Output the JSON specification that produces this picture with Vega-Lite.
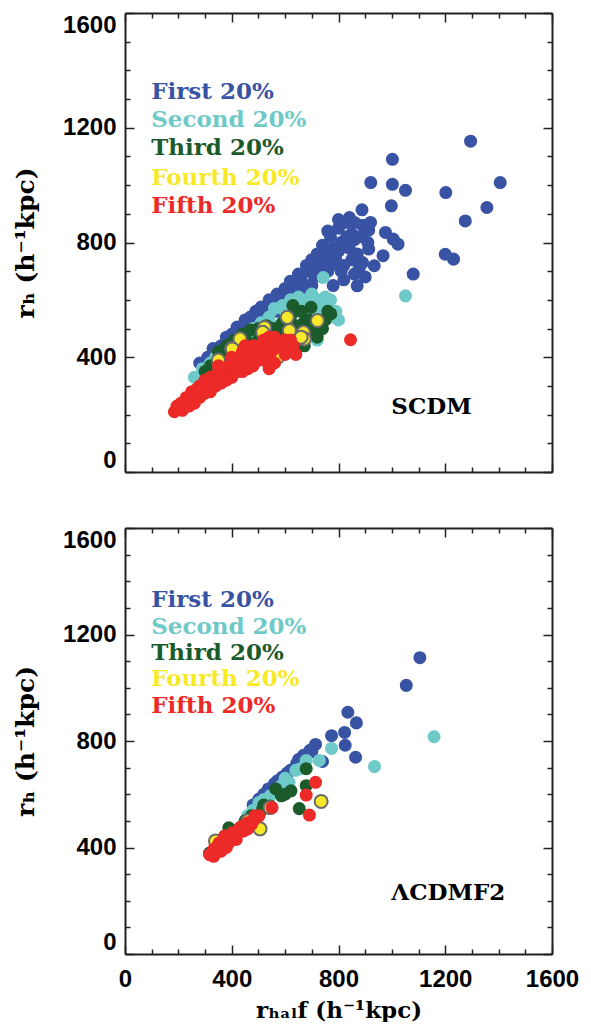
{
  "$schema": "https://vega.github.io/schema/vega-lite/v6.json",
  "background": "white",
  "padding": {"left": 13, "top": 12, "right": 5, "bottom": 0},
  "config": {"view": {"stroke": null}, "font": "Liberation Sans"},
  "spacing": 54,
  "datasets": {
    "top": [
      {"g":"First","x":280,"y":380},{"g":"First","x":310,"y":400},{"g":"First","x":330,"y":430},{"g":"First","x":360,"y":440},{"g":"First","x":380,"y":470},{"g":"First","x":400,"y":480},{"g":"First","x":420,"y":505},{"g":"First","x":440,"y":500},{"g":"First","x":450,"y":530},{"g":"First","x":470,"y":540},{"g":"First","x":490,"y":560},{"g":"First","x":510,"y":575},{"g":"First","x":520,"y":555},{"g":"First","x":540,"y":600},{"g":"First","x":550,"y":580},{"g":"First","x":570,"y":620},{"g":"First","x":580,"y":600},{"g":"First","x":600,"y":640},{"g":"First","x":610,"y":620},{"g":"First","x":620,"y":665},{"g":"First","x":640,"y":650},{"g":"First","x":650,"y":690},{"g":"First","x":660,"y":670},{"g":"First","x":680,"y":720},{"g":"First","x":690,"y":700},{"g":"First","x":700,"y":740},{"g":"First","x":710,"y":680},{"g":"First","x":720,"y":760},{"g":"First","x":730,"y":720},{"g":"First","x":740,"y":790},{"g":"First","x":750,"y":760},{"g":"First","x":760,"y":700},{"g":"First","x":770,"y":820},{"g":"First","x":780,"y":780},{"g":"First","x":790,"y":740},{"g":"First","x":800,"y":850},{"g":"First","x":810,"y":800},{"g":"First","x":820,"y":720},{"g":"First","x":830,"y":870},{"g":"First","x":840,"y":780},{"g":"First","x":850,"y":830},{"g":"First","x":860,"y":690},{"g":"First","x":870,"y":760},{"g":"First","x":880,"y":820},{"g":"First","x":890,"y":730},{"g":"First","x":900,"y":680},{"g":"First","x":660,"y":620},{"g":"First","x":700,"y":650},{"g":"First","x":740,"y":680},{"g":"First","x":780,"y":650},{"g":"First","x":820,"y":670},{"g":"First","x":760,"y":840},{"g":"First","x":800,"y":880},{"g":"First","x":860,"y":870},{"g":"First","x":600,"y":600},
      {"g":"First","x":300,"y":370},{"g":"First","x":350,"y":410},{"g":"First","x":390,"y":450},{"g":"First","x":430,"y":470},{"g":"First","x":460,"y":500},{"g":"First","x":500,"y":530},{"g":"First","x":530,"y":540},{"g":"First","x":560,"y":560},{"g":"First","x":590,"y":570},{"g":"First","x":620,"y":590},{"g":"First","x":650,"y":640},{"g":"First","x":680,"y":650},{"g":"First","x":710,"y":710},{"g":"First","x":740,"y":740},{"g":"First","x":770,"y":760},{"g":"First","x":800,"y":770},{"g":"First","x":830,"y":820},{"g":"First","x":860,"y":810},{"g":"First","x":890,"y":860},{"g":"First","x":910,"y":800},{"g":"First","x":920,"y":870},{"g":"First","x":850,"y":740},{"g":"First","x":810,"y":700},{"g":"First","x":770,"y":720},{"g":"First","x":730,"y":690},{"g":"First","x":690,"y":620},{"g":"First","x":630,"y":610},{"g":"First","x":570,"y":560},
      {"g":"First","x":1295,"y":1153},{"g":"First","x":1002,"y":1090},{"g":"First","x":921,"y":1009},{"g":"First","x":1002,"y":1003},{"g":"First","x":1051,"y":982},{"g":"First","x":1406,"y":1009},{"g":"First","x":1202,"y":974},{"g":"First","x":998,"y":928},{"g":"First","x":1356,"y":922},{"g":"First","x":1275,"y":875},{"g":"First","x":888,"y":914},{"g":"First","x":841,"y":887},{"g":"First","x":913,"y":843},{"g":"First","x":976,"y":835},{"g":"First","x":1005,"y":812},{"g":"First","x":1023,"y":794},{"g":"First","x":1200,"y":759},{"g":"First","x":1231,"y":742},{"g":"First","x":1080,"y":690},{"g":"First","x":913,"y":777},{"g":"First","x":967,"y":754},{"g":"First","x":934,"y":719},{"g":"First","x":870,"y":649},{"g":"First","x":877,"y":707},
      {"g":"Second","x":260,"y":330},{"g":"Second","x":290,"y":360},{"g":"Second","x":320,"y":380},{"g":"Second","x":340,"y":400},{"g":"Second","x":370,"y":410},{"g":"Second","x":400,"y":440},{"g":"Second","x":420,"y":450},{"g":"Second","x":450,"y":470},{"g":"Second","x":480,"y":500},{"g":"Second","x":510,"y":520},{"g":"Second","x":540,"y":540},{"g":"Second","x":560,"y":570},{"g":"Second","x":590,"y":580},{"g":"Second","x":620,"y":600},{"g":"Second","x":650,"y":610},{"g":"Second","x":680,"y":600},{"g":"Second","x":700,"y":620},{"g":"Second","x":720,"y":600},{"g":"Second","x":740,"y":580},{"g":"Second","x":760,"y":560},{"g":"Second","x":780,"y":540},{"g":"Second","x":800,"y":530},{"g":"Second","x":770,"y":600},{"g":"Second","x":730,"y":550},{"g":"Second","x":690,"y":560},{"g":"Second","x":650,"y":560},{"g":"Second","x":610,"y":540},{"g":"Second","x":570,"y":510},{"g":"Second","x":530,"y":490},{"g":"Second","x":743,"y":678},{"g":"Second","x":1051,"y":614},{"g":"Second","x":660,"y":590},{"g":"Second","x":700,"y":480},{"g":"Second","x":720,"y":460},
      {"g":"Second","x":300,"y":340},{"g":"Second","x":350,"y":380},{"g":"Second","x":390,"y":420},{"g":"Second","x":440,"y":450},{"g":"Second","x":490,"y":480},{"g":"Second","x":600,"y":560},{"g":"Second","x":640,"y":580},{"g":"Second","x":710,"y":590},{"g":"Second","x":750,"y":610},{"g":"Second","x":790,"y":560},
      {"g":"Third","x":300,"y":350},{"g":"Third","x":320,"y":370},{"g":"Third","x":350,"y":420},{"g":"Third","x":380,"y":440},{"g":"Third","x":410,"y":460},{"g":"Third","x":440,"y":480},{"g":"Third","x":470,"y":495},{"g":"Third","x":500,"y":500},{"g":"Third","x":530,"y":510},{"g":"Third","x":560,"y":500},{"g":"Third","x":590,"y":520},{"g":"Third","x":620,"y":540},{"g":"Third","x":629,"y":580},{"g":"Third","x":697,"y":574},{"g":"Third","x":771,"y":551},{"g":"Third","x":672,"y":522},{"g":"Third","x":700,"y":500},{"g":"Third","x":640,"y":490},{"g":"Third","x":610,"y":470},{"g":"Third","x":672,"y":440},{"g":"Third","x":720,"y":470},{"g":"Third","x":740,"y":500},{"g":"Third","x":660,"y":560},{"g":"Third","x":580,"y":470},{"g":"Third","x":540,"y":460},{"g":"Third","x":500,"y":460},{"g":"Third","x":460,"y":450},{"g":"Third","x":420,"y":440},
      {"g":"Third","x":360,"y":400},{"g":"Third","x":400,"y":450},{"g":"Third","x":450,"y":470},{"g":"Third","x":520,"y":480},{"g":"Third","x":600,"y":500},{"g":"Third","x":650,"y":510},{"g":"Third","x":690,"y":530},{"g":"Third","x":750,"y":530},{"g":"Third","x":760,"y":560},
      {"g":"Fourth","x":523,"y":504},{"g":"Fourth","x":608,"y":539},{"g":"Fourth","x":616,"y":493},{"g":"Fourth","x":669,"y":487},{"g":"Fourth","x":672,"y":464},{"g":"Fourth","x":721,"y":528},{"g":"Fourth","x":572,"y":400},{"g":"Fourth","x":500,"y":410},{"g":"Fourth","x":400,"y":430},{"g":"Fourth","x":350,"y":390},{"g":"Fourth","x":620,"y":440},{"g":"Fourth","x":550,"y":450},{"g":"Fourth","x":450,"y":420},{"g":"Fourth","x":660,"y":470},{"g":"Fourth","x":431,"y":464},{"g":"Fourth","x":402,"y":429},{"g":"Fourth","x":516,"y":487},
      {"g":"Fifth","x":185,"y":210},{"g":"Fifth","x":200,"y":220},{"g":"Fifth","x":210,"y":240},{"g":"Fifth","x":220,"y":230},{"g":"Fifth","x":230,"y":260},{"g":"Fifth","x":240,"y":250},{"g":"Fifth","x":250,"y":270},{"g":"Fifth","x":260,"y":260},{"g":"Fifth","x":270,"y":290},{"g":"Fifth","x":280,"y":280},{"g":"Fifth","x":290,"y":300},{"g":"Fifth","x":300,"y":290},{"g":"Fifth","x":310,"y":320},{"g":"Fifth","x":320,"y":300},{"g":"Fifth","x":330,"y":330},{"g":"Fifth","x":340,"y":320},{"g":"Fifth","x":350,"y":350},{"g":"Fifth","x":360,"y":330},{"g":"Fifth","x":370,"y":360},{"g":"Fifth","x":380,"y":340},{"g":"Fifth","x":390,"y":370},{"g":"Fifth","x":400,"y":360},{"g":"Fifth","x":410,"y":390},{"g":"Fifth","x":420,"y":370},{"g":"Fifth","x":430,"y":400},{"g":"Fifth","x":440,"y":380},{"g":"Fifth","x":450,"y":410},{"g":"Fifth","x":460,"y":390},{"g":"Fifth","x":470,"y":420},{"g":"Fifth","x":480,"y":400},{"g":"Fifth","x":490,"y":430},{"g":"Fifth","x":500,"y":410},{"g":"Fifth","x":510,"y":440},{"g":"Fifth","x":520,"y":420},{"g":"Fifth","x":530,"y":445},{"g":"Fifth","x":540,"y":430},{"g":"Fifth","x":550,"y":450},{"g":"Fifth","x":560,"y":430},{"g":"Fifth","x":570,"y":455},{"g":"Fifth","x":580,"y":440},{"g":"Fifth","x":600,"y":430},{"g":"Fifth","x":620,"y":420},{"g":"Fifth","x":640,"y":410},{"g":"Fifth","x":560,"y":380},{"g":"Fifth","x":540,"y":360},{"g":"Fifth","x":520,"y":390},{"g":"Fifth","x":480,"y":370},{"g":"Fifth","x":440,"y":350},{"g":"Fifth","x":400,"y":330},{"g":"Fifth","x":360,"y":310},{"g":"Fifth","x":320,"y":280},{"g":"Fifth","x":280,"y":260},{"g":"Fifth","x":240,"y":230},{"g":"Fifth","x":600,"y":460},{"g":"Fifth","x":620,"y":460},{"g":"Fifth","x":450,"y":440},{"g":"Fifth","x":400,"y":400},{"g":"Fifth","x":350,"y":370},{"g":"Fifth","x":300,"y":320},{"g":"Fifth","x":845,"y":461},
      {"g":"Fifth","x":195,"y":230},{"g":"Fifth","x":215,"y":215},{"g":"Fifth","x":235,"y":240},{"g":"Fifth","x":255,"y":250},{"g":"Fifth","x":265,"y":275},{"g":"Fifth","x":285,"y":270},{"g":"Fifth","x":305,"y":305},{"g":"Fifth","x":325,"y":315},{"g":"Fifth","x":345,"y":335},{"g":"Fifth","x":365,"y":345},{"g":"Fifth","x":385,"y":355},{"g":"Fifth","x":405,"y":375},{"g":"Fifth","x":425,"y":385},{"g":"Fifth","x":445,"y":395},{"g":"Fifth","x":465,"y":405},{"g":"Fifth","x":485,"y":415},{"g":"Fifth","x":505,"y":425},{"g":"Fifth","x":525,"y":405},{"g":"Fifth","x":545,"y":415},{"g":"Fifth","x":565,"y":445},{"g":"Fifth","x":585,"y":455},{"g":"Fifth","x":600,"y":410},{"g":"Fifth","x":630,"y":440},{"g":"Fifth","x":500,"y":390},{"g":"Fifth","x":460,"y":360},{"g":"Fifth","x":420,"y":350},{"g":"Fifth","x":380,"y":320},{"g":"Fifth","x":340,"y":300},{"g":"Fifth","x":300,"y":275},{"g":"Fifth","x":260,"y":240},{"g":"Fifth","x":560,"y":470},{"g":"Fifth","x":520,"y":460},{"g":"Fifth","x":480,"y":440},{"g":"Fifth","x":440,"y":420},{"g":"Fifth","x":400,"y":390},{"g":"Fifth","x":360,"y":360},{"g":"Fifth","x":320,"y":330},{"g":"Fifth","x":280,"y":300},{"g":"Fifth","x":250,"y":280},{"g":"Fifth","x":540,"y":470}
    ],
    "bottom": [
      {"g":"First","x":1105,"y":1113},{"g":"First","x":1054,"y":1009},{"g":"First","x":835,"y":908},{"g":"First","x":867,"y":868},{"g":"First","x":774,"y":820},{"g":"First","x":823,"y":832},{"g":"First","x":825,"y":784},{"g":"First","x":864,"y":739},{"g":"First","x":740,"y":723},{"g":"First","x":714,"y":787},{"g":"First","x":693,"y":765},{"g":"First","x":669,"y":746},{"g":"First","x":643,"y":715},{"g":"First","x":608,"y":680},{"g":"First","x":572,"y":651},{"g":"First","x":537,"y":620},{"g":"First","x":502,"y":582},{"g":"First","x":700,"y":760},{"g":"First","x":650,"y":730},{"g":"First","x":620,"y":690},{"g":"First","x":590,"y":665},{"g":"First","x":560,"y":640},{"g":"First","x":520,"y":600},{"g":"First","x":480,"y":560},
      {"g":"Second","x":1158,"y":816},{"g":"Second","x":935,"y":704},{"g":"Second","x":774,"y":772},{"g":"Second","x":728,"y":727},{"g":"Second","x":679,"y":727},{"g":"Second","x":657,"y":696},{"g":"Second","x":615,"y":645},{"g":"Second","x":586,"y":632},{"g":"Second","x":544,"y":594},{"g":"Second","x":502,"y":569},{"g":"Second","x":459,"y":519},{"g":"Second","x":600,"y":660},{"g":"Second","x":640,"y":690},{"g":"Second","x":520,"y":580},{"g":"Second","x":480,"y":540},
      {"g":"Third","x":679,"y":696},{"g":"Third","x":679,"y":632},{"g":"Third","x":653,"y":546},{"g":"Third","x":565,"y":620},{"g":"Third","x":622,"y":613},{"g":"Third","x":586,"y":594},{"g":"Third","x":544,"y":556},{"g":"Third","x":516,"y":544},{"g":"Third","x":474,"y":519},{"g":"Third","x":431,"y":474},{"g":"Third","x":389,"y":474},{"g":"Third","x":317,"y":379},{"g":"Third","x":374,"y":443},{"g":"Third","x":600,"y":600},{"g":"Third","x":450,"y":500},{"g":"Third","x":410,"y":455},{"g":"Third","x":350,"y":410},{"g":"Third","x":520,"y":560},
      {"g":"Fourth","x":735,"y":573},{"g":"Fourth","x":506,"y":470},{"g":"Fourth","x":544,"y":550},{"g":"Fourth","x":339,"y":424},{"g":"Fourth","x":460,"y":500},
      {"g":"Fifth","x":714,"y":645},{"g":"Fifth","x":679,"y":597},{"g":"Fifth","x":691,"y":522},{"g":"Fifth","x":551,"y":550},{"g":"Fifth","x":487,"y":519},{"g":"Fifth","x":459,"y":493},{"g":"Fifth","x":431,"y":474},{"g":"Fifth","x":402,"y":455},{"g":"Fifth","x":374,"y":443},{"g":"Fifth","x":353,"y":417},{"g":"Fifth","x":332,"y":392},{"g":"Fifth","x":332,"y":367},{"g":"Fifth","x":360,"y":386},{"g":"Fifth","x":388,"y":417},{"g":"Fifth","x":417,"y":430},{"g":"Fifth","x":445,"y":462},{"g":"Fifth","x":474,"y":487},{"g":"Fifth","x":502,"y":519},{"g":"Fifth","x":346,"y":405},{"g":"Fifth","x":317,"y":373},{"g":"Fifth","x":380,"y":400},{"g":"Fifth","x":420,"y":450},{"g":"Fifth","x":460,"y":470},{"g":"Fifth","x":400,"y":430},
      {"g":"Fifth","x":340,"y":380},{"g":"Fifth","x":370,"y":420},{"g":"Fifth","x":410,"y":440},{"g":"Fifth","x":440,"y":480},{"g":"Fifth","x":480,"y":500},{"g":"Fifth","x":350,"y":395}
    ],
    "topText": [
      {"t":"First 20%","g":"First","x":98,"y":1324},
      {"t":"Second 20%","g":"Second","x":98,"y":1227},
      {"t":"Third 20%","g":"Third","x":98,"y":1128},
      {"t":"Fourth 20%","g":"Fourth","x":98,"y":1026},
      {"t":"Fifth 20%","g":"Fifth","x":98,"y":927},
      {"t":"SCDM","g":"Label","x":998,"y":226}
    ],
    "bottomText": [
      {"t":"First 20%","g":"First","x":98,"y":1328},
      {"t":"Second 20%","g":"Second","x":98,"y":1229},
      {"t":"Third 20%","g":"Third","x":98,"y":1132},
      {"t":"Fourth 20%","g":"Fourth","x":98,"y":1031},
      {"t":"Fifth 20%","g":"Fifth","x":98,"y":932},
      {"t":"ΛCDMF2","g":"Label","x":998,"y":228}
    ]
  },
  "vconcat": [
    {
      "width": 427,
      "height": 459,
      "resolve": {"axis": {"x": "independent", "y": "independent"}},
      "layer": [
        {
          "data": {"name": "top"},
          "mark": {"type": "point", "filled": true, "shape": "circle", "size": 170, "opacity": 1, "strokeWidth": 2},
          "encoding": {
            "x": {"field": "x", "type": "quantitative", "scale": {"domain": [0, 1600], "nice": false, "zero": false},
              "axis": {"orient": "bottom", "values": [0,100,200,300,400,500,600,700,800,900,1000,1100,1200,1300,1400,1500,1600],
                "tickSize": {"condition": {"test": "datum.value % 400 === 0", "value": -9}, "value": -5},
                "tickWidth": 1.5, "tickColor": "#222", "domainColor": "#222", "domainWidth": 2,
                "labels": false, "title": null, "grid": false}},
            "y": {"field": "y", "type": "quantitative", "scale": {"domain": [0, 1600], "nice": false, "zero": false},
              "axis": {"orient": "left", "values": [0,100,200,300,400,500,600,700,800,900,1000,1100,1200,1300,1400,1500,1600],
                "tickSize": {"condition": {"test": "datum.value % 400 === 0", "value": -9}, "value": -5},
                "tickWidth": 1.5, "tickColor": "#222", "domainColor": "#222", "domainWidth": 2,
                "format": "d", "labelExpr": "datum.value % 400 === 0 ? datum.label : ''",
                "labelFont": "Liberation Sans", "labelFontWeight": "bold", "labelFontSize": 24, "labelColor": "#000",
                "labelPadding": 18, "labelOverlap": false, "labelFlush": true, "labelFlushOffset": 0,
                "title": "rₕ (h⁻¹kpc)", "titleFont": "DejaVu Serif", "titleFontWeight": "bold", "titleFontSize": 25, "titleColor": "#000", "titlePadding": 24, "grid": false}},
            "color": {"field": "g", "type": "nominal", "legend": null,
              "scale": {"domain": ["First","Second","Third","Fourth","Fifth","Label"], "range": ["#3953a4","#6dcac8","#1b5a2b","#f7e92a","#ec2a27","#000000"]}},
            "stroke": {"condition": {"test": "datum.g === 'Fourth'", "value": "#6b6b6b"}, "value": "transparent"}
          }
        },
        {
          "data": {"name": "topText"},
          "mark": {"type": "text", "align": "left", "baseline": "middle", "font": "DejaVu Serif", "fontWeight": "bold", "fontSize": 23},
          "encoding": {
            "x": {"field": "x", "type": "quantitative", "scale": {"domain": [0, 1600], "nice": false, "zero": false},
              "axis": {"orient": "top", "values": [0,100,200,300,400,500,600,700,800,900,1000,1100,1200,1300,1400,1500,1600],
                "tickSize": {"condition": {"test": "datum.value % 400 === 0", "value": -9}, "value": -5},
                "tickWidth": 1.5, "tickColor": "#222", "domainColor": "#222", "domainWidth": 2,
                "labels": false, "title": null, "grid": false}},
            "y": {"field": "y", "type": "quantitative", "scale": {"domain": [0, 1600], "nice": false, "zero": false},
              "axis": {"orient": "right", "values": [0,100,200,300,400,500,600,700,800,900,1000,1100,1200,1300,1400,1500,1600],
                "tickSize": {"condition": {"test": "datum.value % 400 === 0", "value": -9}, "value": -5},
                "tickWidth": 1.5, "tickColor": "#222", "domainColor": "#222", "domainWidth": 2,
                "labels": false, "title": null, "grid": false}},
            "text": {"field": "t"},
            "color": {"field": "g", "type": "nominal", "legend": null}
          }
        }
      ]
    },
    {
      "width": 427,
      "height": 426,
      "resolve": {"axis": {"x": "independent", "y": "independent"}},
      "layer": [
        {
          "data": {"name": "bottom"},
          "mark": {"type": "point", "filled": true, "shape": "circle", "size": 170, "opacity": 1, "strokeWidth": 2},
          "encoding": {
            "x": {"field": "x", "type": "quantitative", "scale": {"domain": [0, 1600], "nice": false, "zero": false},
              "axis": {"orient": "bottom", "values": [0,100,200,300,400,500,600,700,800,900,1000,1100,1200,1300,1400,1500,1600],
                "tickSize": {"condition": {"test": "datum.value % 400 === 0", "value": -9}, "value": -5},
                "tickWidth": 1.5, "tickColor": "#222", "domainColor": "#222", "domainWidth": 2,
                "format": "d", "labelExpr": "datum.value % 400 === 0 ? datum.label : ''",
                "labelFont": "Liberation Sans", "labelFontWeight": "bold", "labelFontSize": 24, "labelColor": "#000",
                "labelPadding": 22, "labelOverlap": false, "labelFlush": false,
                "title": "rₕₐₗf (h⁻¹kpc)", "titleFont": "DejaVu Serif", "titleFontWeight": "bold", "titleFontSize": 23, "titleColor": "#000", "titlePadding": 4, "grid": false}},
            "y": {"field": "y", "type": "quantitative", "scale": {"domain": [0, 1600], "nice": false, "zero": false},
              "axis": {"orient": "left", "values": [0,100,200,300,400,500,600,700,800,900,1000,1100,1200,1300,1400,1500,1600],
                "tickSize": {"condition": {"test": "datum.value % 400 === 0", "value": -9}, "value": -5},
                "tickWidth": 1.5, "tickColor": "#222", "domainColor": "#222", "domainWidth": 2,
                "format": "d", "labelExpr": "datum.value % 400 === 0 ? datum.label : ''",
                "labelFont": "Liberation Sans", "labelFontWeight": "bold", "labelFontSize": 24, "labelColor": "#000",
                "labelPadding": 18, "labelOverlap": false, "labelFlush": true, "labelFlushOffset": 0,
                "title": "rₕ (h⁻¹kpc)", "titleFont": "DejaVu Serif", "titleFontWeight": "bold", "titleFontSize": 25, "titleColor": "#000", "titlePadding": 24, "grid": false}},
            "color": {"field": "g", "type": "nominal", "legend": null,
              "scale": {"domain": ["First","Second","Third","Fourth","Fifth","Label"], "range": ["#3953a4","#6dcac8","#1b5a2b","#f7e92a","#ec2a27","#000000"]}},
            "stroke": {"condition": {"test": "datum.g === 'Fourth'", "value": "#6b6b6b"}, "value": "transparent"}
          }
        },
        {
          "data": {"name": "bottomText"},
          "mark": {"type": "text", "align": "left", "baseline": "middle", "font": "DejaVu Serif", "fontWeight": "bold", "fontSize": 23},
          "encoding": {
            "x": {"field": "x", "type": "quantitative", "scale": {"domain": [0, 1600], "nice": false, "zero": false},
              "axis": {"orient": "top", "values": [0,100,200,300,400,500,600,700,800,900,1000,1100,1200,1300,1400,1500,1600],
                "tickSize": {"condition": {"test": "datum.value % 400 === 0", "value": -9}, "value": -5},
                "tickWidth": 1.5, "tickColor": "#222", "domainColor": "#222", "domainWidth": 2,
                "labels": false, "title": null, "grid": false}},
            "y": {"field": "y", "type": "quantitative", "scale": {"domain": [0, 1600], "nice": false, "zero": false},
              "axis": {"orient": "right", "values": [0,100,200,300,400,500,600,700,800,900,1000,1100,1200,1300,1400,1500,1600],
                "tickSize": {"condition": {"test": "datum.value % 400 === 0", "value": -9}, "value": -5},
                "tickWidth": 1.5, "tickColor": "#222", "domainColor": "#222", "domainWidth": 2,
                "labels": false, "title": null, "grid": false}},
            "text": {"field": "t"},
            "color": {"field": "g", "type": "nominal", "legend": null}
          }
        }
      ]
    }
  ]
}
